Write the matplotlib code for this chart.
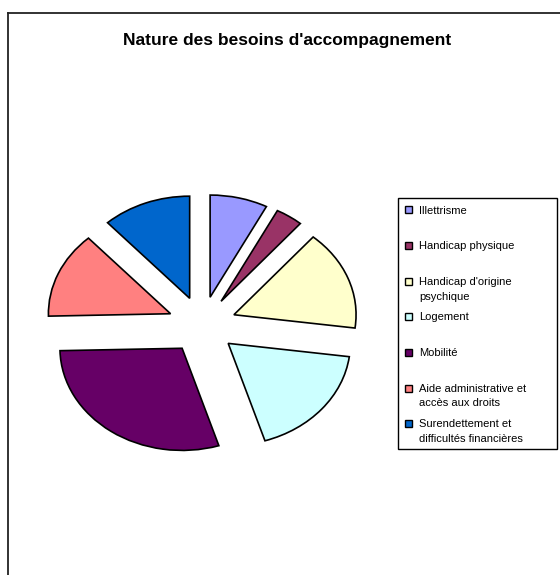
"""Nature des besoins d'accompagnement - exploded pie."""

import matplotlib.pyplot as plt
from matplotlib.patches import Rectangle
from matplotlib.lines import Line2D

categories = ['Illettrisme', 'Handicap physique', "Handicap d'origine\npsychique",
              'Logement', 'Mobilité', 'Aide administrative et\naccès aux droits',
              'Surendettement et\ndifficultés financières']
values = [7.6, 3.6, 15.8, 18.0, 29.4, 13.6, 11.7]
colors = ['#9999FF', '#993366', '#FFFFCC', '#CCFFFF', '#660066', '#FF8080', '#0066CC']

W, H = 560, 575
plt.rcParams['font.family'] = ['Liberation Sans', 'DejaVu Sans']

fig = plt.figure(figsize=(W / 100, H / 100), dpi=100)

# chart frame (only left/top edges visible in the picture)
fig.add_artist(Line2D([8 / W, 8 / W], [0, 1 - 13 / H], color='#222222', lw=1.3))
fig.add_artist(Line2D([8 / W, 1], [1 - 13 / H, 1 - 13 / H], color='#222222', lw=1.3))

fig.text(287 / W, 1 - 41 / H, "Nature des besoins d'accompagnement",
         ha='center', va='center', fontsize=12.5, fontweight='bold')

# pie, squashed vertically like the original
ax = fig.add_axes([31 / W, 107 / H, 342 / W, 286 / H])
ax.pie(values, colors=colors, explode=[0.28] * len(values), startangle=90,
       counterclock=False, wedgeprops=dict(edgecolor='black', linewidth=1.2))
ax.set_aspect('auto')
ax.set_xlim(-1.4, 1.4)
ax.set_ylim(-1.4, 1.4)
ax.axis('off')

# legend box
fig.add_artist(Rectangle((398 / W, 1 - 449 / H), 159 / W, 251 / H,
                         transform=fig.transFigure, facecolor='white',
                         edgecolor='black', lw=1.0))
for i, (lab, col) in enumerate(zip(categories, colors)):
    yc = 210 + 35.6 * i
    fig.add_artist(Rectangle((405 / W, 1 - (yc + 3.5) / H), 7 / W, 7 / H,
                             transform=fig.transFigure, facecolor=col,
                             edgecolor='black', lw=1.0))
    fig.text(419 / W, 1 - (yc - 4.5) / H, lab, ha='left', va='top',
             fontsize=8, linespacing=1.6)

fig.savefig('out.png', dpi=100)
